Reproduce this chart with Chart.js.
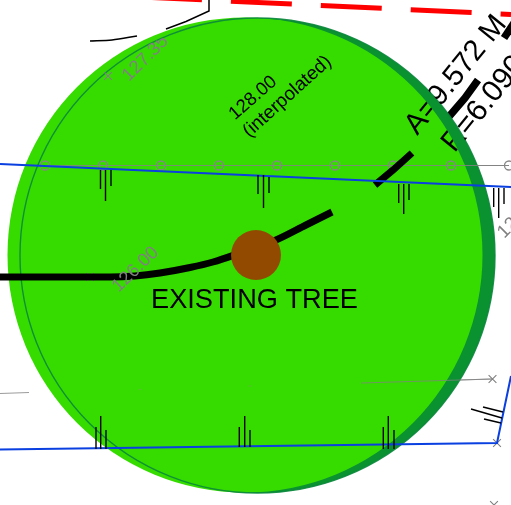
<!DOCTYPE html>
<html>
<head>
<meta charset="utf-8">
<title>Existing tree</title>
<style>
html, body { margin: 0; padding: 0; background: #fff; overflow: hidden; }
canvas { display: block; }
</style>
<script src="https://cdn.jsdelivr.net/npm/chart.js@4/dist/chart.umd.min.js"></script>
</head>
<body>
<canvas id="plan" width="511" height="505"></canvas>
<script>
// plan coordinates
const canopy = [[245, 255]];
const canopyShadow = [[257.5, 255.5]];
const tree = [[256, 255]];

const redBoundary = [[141, -3], [511, 14.4]];
const blueTop = [[0, 164], [511, 187]];
const blueBottom = [[0, 449.5], [497, 443], [511, 376]];
const kerbLeft = [[90, 41], [112, 40], [137, 36]];
const kerbRight = [[166, 29], [186, 21.5], [209, 11], [209, 0]];
const contourMain = [[0, 277], [110, 277], [135, 276], [160, 273], [190, 267.5], [213, 262], [240, 253], [276, 240], [306, 225], [332, 212]];
const contourDash1 = [[375, 185], [393, 170], [412, 153]];
const contourDash2 = [[440, 127], [465, 98], [478, 80]];
const contourDash3 = [[504, 38], [520, 14]];

const fenceLine = [[45, 165.5], [103, 165.5], [161, 165.5], [219, 165.5], [277, 165.5], [335, 165.5], [393, 165.5], [451, 165.5], [509, 165.5]];
const greyRight = [[361, 383], [492, 379]];
const greyLeft = [[0, 393.5], [29, 392.5]];
const crossMarks = [[108, 76], [90, 277], [492.5, 379], [497, 443], [494, 505]];
const specks = [[140, 389.5], [250, 386]];

const hatchTop = [
  [[100.5, 170], [100.5, 189]], [[105.5, 170], [105.5, 201]], [[111, 170], [111, 186]],
  [[258, 175], [258, 194]], [[263.5, 175], [263.5, 208]], [[269, 177], [269, 193]],
  [[398.7, 184], [398.7, 203]], [[403.7, 184], [403.7, 214]], [[409, 184], [409, 200]],
  [[493.7, 188], [493.7, 207]], [[498.7, 188], [498.7, 218]], [[504, 188], [504, 204]]
];
const hatchBottom = [
  [[96, 427], [96, 449]], [[100.7, 416], [100.7, 449]], [[106, 430], [106, 449]],
  [[239.3, 427], [239.3, 447]], [[244.7, 416], [244.7, 447]], [[250, 430], [250, 447]],
  [[383.3, 427], [383.3, 449]], [[388.3, 416], [388.3, 449]], [[394, 430], [394, 449]],
  [[471, 409], [502, 418]], [[483, 407], [503, 412]], [[484, 419], [501, 423]]
];

const labelTexts = ['127.35', '126.00', '12', '128.00', '(interpolated)', 'EXISTING TREE', 'A=9.572 M', 'R=6.090'];
const labelAnchors = [[145.5, 58.5], [135.5, 269.5], [508, 228], [253, 98], [287.3, 96.7], [254.5, 301], [456, 75], [484, 104]];
const labelAngles = [-45, -44, -45, -41, -42, 0, -51, -51];
const labelSizes = [18.5, 18.5, 18.5, 18.5, 19, 27.2, 29.5, 30];
const labelColors = ['#808080', '#808080', '#808080', '#000', '#000', '#000', '#000', '#000'];

const canopyRadius = 237.5;

const toXY = pts => pts.map(p => ({ x: p[0], y: p[1] }));

function lineSet(pts, color, width, extra) {
  return Object.assign({
    data: toXY(pts), showLine: true, borderColor: color, borderWidth: width,
    pointRadius: 0, fill: false, tension: 0, borderCapStyle: 'butt'
  }, extra || {});
}

function pointSet(pts, opts) {
  return Object.assign({ data: toXY(pts), showLine: false }, opts);
}

// listed bottom to top, order is set further down
const layers = [
  lineSet(fenceLine, 'rgba(130,130,130,0.9)', 1),
  lineSet(greyRight, 'rgba(130,130,130,0.8)', 1),
  lineSet(greyLeft, 'rgba(130,130,130,0.8)', 1),
  lineSet(kerbLeft, '#000', 1.5, { tension: 0.3 }),
  lineSet(kerbRight, '#000', 1.5),
  lineSet(contourDash2, '#000', 7.5),
  pointSet(canopyShadow, { pointRadius: canopyRadius, pointBackgroundColor: '#0a9130', pointBorderWidth: 0 }),
  pointSet(canopy, { pointRadius: canopyRadius, pointBackgroundColor: '#36dc00', pointBorderWidth: 0 }),
  pointSet(canopyShadow, { pointRadius: canopyRadius, pointBackgroundColor: 'transparent', pointBorderColor: 'rgba(10,135,60,0.9)', pointBorderWidth: 1.4 }),
  lineSet(fenceLine, 'rgba(130,130,130,0.85)', 1.2),
  pointSet(fenceLine, { pointRadius: 4.5, pointBackgroundColor: 'transparent', pointBorderColor: '#868686', pointBorderWidth: 1.3 }),
  lineSet(greyRight, 'rgba(130,130,130,0.75)', 1),
  pointSet(crossMarks, { pointStyle: 'crossRot', pointRadius: 5.5, pointBorderColor: '#808080', pointBorderWidth: 1.1 }),
  pointSet(specks, { pointRadius: 0.7, pointBackgroundColor: '#8a9a70', pointBorderWidth: 0 }),
  lineSet(redBoundary, '#ff0000', 5, { borderDash: [61, 29] }),
  lineSet(contourMain, '#000', 7, { cubicInterpolationMode: 'monotone' }),
  lineSet(contourDash1, '#000', 7),
  lineSet(contourDash3, '#000', 7.5),
  pointSet(tree, { pointRadius: 25, pointBackgroundColor: '#924a00', pointBorderWidth: 0 }),
  lineSet(blueTop, '#0a3fe0', 2),
  lineSet(blueBottom, '#0a3fe0', 2)
];
hatchTop.concat(hatchBottom).forEach(h => layers.push(lineSet(h, '#000', 1.4)));
layers.forEach((d, i) => { d.order = layers.length - i; });

const planLabels = {
  id: 'planLabels',
  afterDatasetsDraw(chart) {
    const { ctx, scales, width, height } = chart;
    const px = p => [scales.x.getPixelForValue(p[0]), scales.y.getPixelForValue(p[1])];
    const shadowPx = px(canopyShadow[0]);
    const canopyPx = px(canopy[0]);

    ctx.save();
    // the dark rim hides whatever text runs under it
    ctx.beginPath();
    ctx.rect(0, 0, width, height);
    ctx.moveTo(shadowPx[0] + canopyRadius, shadowPx[1]);
    ctx.arc(shadowPx[0], shadowPx[1], canopyRadius, 0, Math.PI * 2);
    ctx.moveTo(canopyPx[0] + canopyRadius, canopyPx[1]);
    ctx.arc(canopyPx[0], canopyPx[1], canopyRadius, 0, Math.PI * 2);
    ctx.clip('evenodd');

    labelTexts.forEach((text, i) => {
      const pos = px(labelAnchors[i]);
      ctx.save();
      ctx.translate(pos[0], pos[1]);
      ctx.rotate(labelAngles[i] * Math.PI / 180);
      ctx.font = labelSizes[i] + 'px "Liberation Sans", Arial, sans-serif';
      ctx.fillStyle = labelColors[i];
      ctx.textAlign = 'center';
      ctx.textBaseline = 'middle';
      ctx.fillText(text, 0, 0);
      ctx.restore();
    });
    ctx.restore();
  }
};

new Chart(document.getElementById('plan'), {
  type: 'scatter',
  data: { datasets: layers },
  options: {
    responsive: false,
    animation: false,
    events: [],
    // the big canopy points would otherwise squeeze the plot area down to nothing
    layout: { padding: 0, autoPadding: false },
    plugins: { legend: { display: false }, tooltip: { enabled: false } },
    scales: {
      x: { type: 'linear', display: false, min: 0, max: 511 },
      y: { type: 'linear', display: false, min: 0, max: 505, reverse: true }
    }
  },
  plugins: [planLabels]
});
</script>
</body>
</html>
